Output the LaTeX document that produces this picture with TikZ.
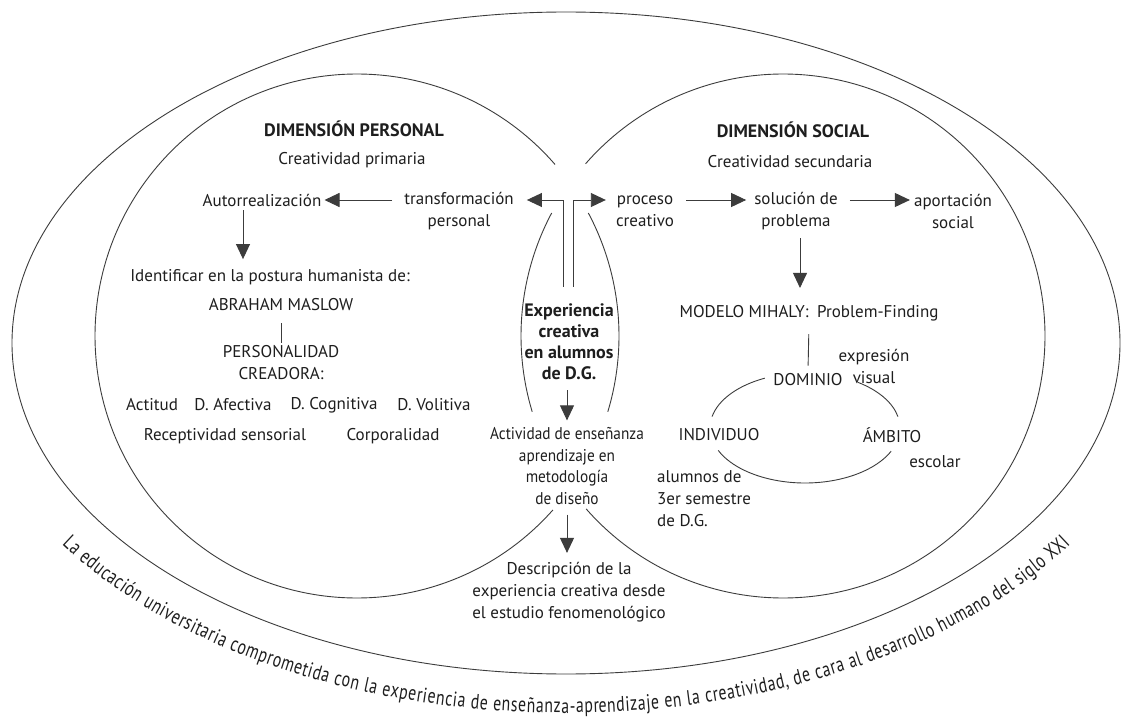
\documentclass[tikz,border=0pt]{standalone}
\usepackage{fontspec}
\setmainfont{PT Sans}
\newfontfamily\tightfont{PT Sans}[FakeStretch=0.9]
\newfontfamily\arcfont{PT Sans}[FakeStretch=0.75]
\usetikzlibrary{arrows.meta,decorations.text}
\definecolor{ink}{HTML}{1E1E1E}
\definecolor{rule}{HTML}{3C3C3C}
\tikzset{
  lbl/.style={font=\fontsize{17}{22}\selectfont, text=ink, align=center, inner sep=3pt},
  hdr/.style={lbl, font=\fontsize{18}{21}\selectfont\bfseries},
  arr/.style={-{Triangle[length=15pt,width=14pt]}, draw=rule, line width=0.9pt},
  ln/.style={draw=rule, line width=0.9pt},
}

\begin{document}
\begin{tikzpicture}[x=1pt,y=1pt]
  \useasboundingbox (0,0) rectangle (1122,-719);
  \fill[white] (0,0) rectangle (1122,-719);

  % outer ellipse and the two dimensions
  \draw[ln] (566,-343) ellipse[x radius=554pt, y radius=331pt];
  \draw[ln] (357,-336) ++(28:262pt) arc[start angle=28, end angle=-16.8, radius=262pt];
  \draw[ln] (357,-336) ++(-41.6:262pt) arc[start angle=-41.6, end angle=-319.1, radius=262pt];
  \draw[ln] (783,-336) ++(152:262pt) arc[start angle=152, end angle=196.8, radius=262pt];
  \draw[ln] (783,-336) ++(221.3:262pt) arc[start angle=221.3, end angle=498.9, radius=262pt];

  % text round the bottom
  \path[decorate, decoration={text along path, text color=ink, text align=fit to path,
      text={|\arcfont\fontsize{21}{21}\selectfont|La educación universitaria comprometida con la experiencia de enseñanza-aprendizaje en la creatividad, de cara al desarrollo humano del siglo XXI}}]
    (566,-343) ++(213:601pt and 370pt) arc[start angle=213, end angle=327, x radius=601pt, y radius=370pt];

  % personal side
  \node[hdr] (dimP) at (354,-129) {DIMENSIÓN PERSONAL};
  \node[lbl] (creaP) at (352,-160) {Creatividad primaria};
  \node[lbl] (autorr) at (262,-200) {Autorrealización};
  \node[lbl] (transf) at (459,-211) {transformación\\personal};
  \node[lbl] (ident) at (270,-277) {Identificar en la postura humanista de:};
  \node[lbl] (maslow) at (281,-305) {ABRAHAM MASLOW};
  \node[lbl] (person) at (281,-363) {PERSONALIDAD\\CREADORA:};
  \node[lbl] (actit) at (152,-405) {Actitud};
  \node[lbl] (dafec) at (233,-405) {D. Afectiva};
  \node[lbl] (dcogn) at (334,-405) {D. Cognitiva};
  \node[lbl] (dvoli) at (434,-405) {D. Volitiva};
  \node[lbl] (recep) at (225,-436) {Receptividad sensorial};
  \node[lbl] (corpo) at (393,-436) {Corporalidad};

  % social side
  \node[hdr] (dimS) at (793,-130) {DIMENSIÓN SOCIAL};
  \node[lbl] (creaS) at (790,-162) {Creatividad secundaria};
  \node[lbl] (proc) at (645,-211) {proceso\\creativo};
  \node[lbl] (sol) at (796,-211) {solución de\\problema};
  \node[lbl] (aport) at (953,-211) {aportación\\social};
  \node[lbl] (mihaly) at (809,-313) {MODELO MIHALY:\enspace Problem-Finding};
  \node[lbl] (domin) at (808,-380) {DOMINIO};
  \node[lbl] (expre) at (874,-366) {expresión\\visual};
  \node[lbl] (indiv) at (719,-435) {INDIVIDUO};
  \node[lbl] (ambit) at (892,-435) {ÁMBITO};
  \node[lbl] (escol) at (935,-462) {escolar};
  \node[lbl, align=left, anchor=west] (alumn) at (654,-499) {alumnos de\\3er semestre\\de D.G.};

  % centre column
  \node[hdr] (exper) at (569,-342) {Experiencia\\creativa\\en alumnos\\de D.G.};
  \node[lbl, font=\tightfont\fontsize{17}{21.5}\selectfont] (activ) at (567,-466)
    {Actividad de enseñanza\\aprendizaje en\\metodología\\de diseño};
  \node[lbl] (descr) at (569,-592) {Descripción de la\\experiencia creativa desde\\el estudio fenomenológico};

  % cycle of Mihaly
  \draw[ln] (805,-428) ++(115:95pt and 55pt) arc[start angle=115, end angle=168, x radius=95pt, y radius=55pt];
  \draw[ln] (805,-428) ++(12:95pt and 55pt) arc[start angle=12, end angle=56, x radius=95pt, y radius=55pt];
  \draw[ln] (805,-428) ++(204:95pt and 55pt) arc[start angle=204, end angle=335, x radius=95pt, y radius=55pt];

  % connectors
  \coordinate (row) at (0,-200);
  \coordinate (tl) at (563,-287);
  \coordinate (tr) at (573,-287);
  \coordinate (acol) at (243,0);
  \draw[arr, shorten <=9pt] (transf.west |- row) -- (autorr.east);
  \draw[arr] (tl) |- ([xshift=10pt]transf.east |- row);
  \draw[arr] (tr) |- ([xshift=-7pt]proc.west |- row);
  \draw[arr, shorten <=9pt, shorten >=5pt] (proc.east |- row) -- (sol.west |- row);
  \draw[arr, shorten <=9pt, shorten >=1pt] (sol.east |- row) -- (aport.west |- row);
  \draw[arr, shorten <=1pt, shorten >=7pt] (autorr.south -| acol) -- (ident.north -| acol);
  \draw[arr, shorten <=5pt, shorten >=14pt] ([xshift=4pt]sol.south) -- ([xshift=4pt]sol.south |- mihaly.north);
  \draw[ln, shorten <=9pt] (maslow.south) -- (person.north);
  \draw[ln, shorten <=10pt, shorten >=5pt] (mihaly.south) -- (domin.north);
  \draw[arr, shorten <=7pt, shorten >=4pt] ([xshift=-2pt]exper.south) -- ([xshift=-2pt]exper.south |- activ.north);
  \draw[arr, shorten <=7pt, shorten >=6pt] (activ.south) -- (activ.south |- descr.north);
\end{tikzpicture}
\end{document}
